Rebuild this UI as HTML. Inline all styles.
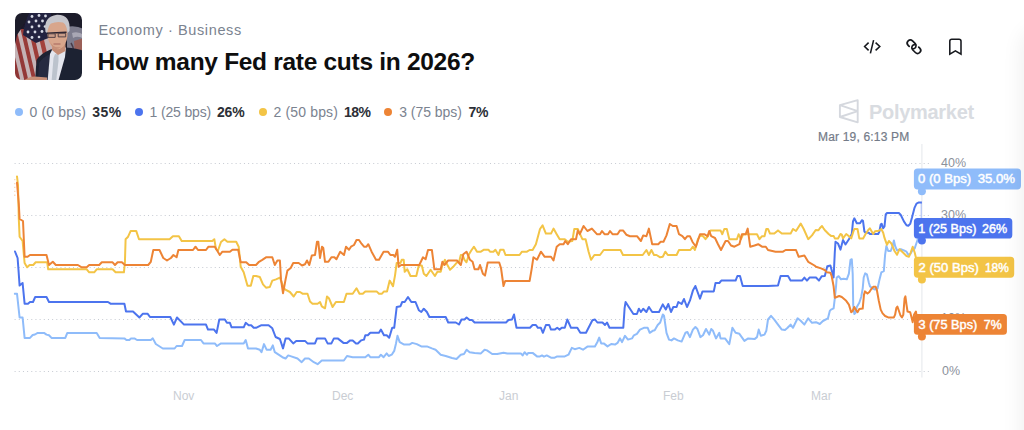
<!DOCTYPE html>
<html><head><meta charset="utf-8">
<style>
html,body{margin:0;padding:0;background:#fff;}
body{width:1024px;height:430px;position:relative;overflow:hidden;font-family:"Liberation Sans",sans-serif;}
.abs{position:absolute;white-space:nowrap;}
#crumb{left:98.5px;top:22px;font-size:14.5px;line-height:16px;color:#7b8390;letter-spacing:0.62px;}
#title{left:97.5px;top:48px;font-size:24.5px;line-height:28px;font-weight:bold;color:#0e0e0e;letter-spacing:-0.3px;}
.lg{top:104px;font-size:14px;line-height:16px;color:#7b8390;}
.lg b{color:#2c2f36;}
.dot{position:absolute;width:8px;height:8px;border-radius:50%;top:107.5px;}
#pm{left:869px;top:100px;font-size:20px;line-height:24px;font-weight:bold;color:#d9dce1;letter-spacing:-0.3px;}
#date{left:818px;top:130px;font-size:12px;line-height:14px;color:#747b88;letter-spacing:0.18px;-webkit-text-stroke:0.2px #747b88;}
.ax{font-size:12.5px;line-height:14px;color:#8b919b;left:941px;}
.mo{font-size:12px;line-height:14px;color:#c9cdd3;top:388.6px;}
#shade{position:absolute;left:1024px;top:30px;width:40px;height:600px;border-radius:24px;box-shadow:0 0 20px 4px rgba(0,0,0,0.06);}
</style></head><body>
<svg class="abs" style="left:14.7px;top:13.2px" width="67" height="67" viewBox="0 0 67 67">
<defs><clipPath id="tc"><rect x="0" y="0" width="67" height="67" rx="7"/></clipPath>
<filter id="bl" x="-10%" y="-10%" width="120%" height="120%"><feGaussianBlur stdDeviation="0.55"/></filter></defs>
<g clip-path="url(#tc)"><g filter="url(#bl)">
<rect x="-2" y="-2" width="71" height="71" fill="#1b1a2b"/>
<!-- right bg seal -->
<path d="M52,14 Q60,12 69,16 V52 H52 Z" fill="#7d7c8d"/>
<path d="M57,20 Q63,18 69,22 V26 Q63,22 58,25 Z" fill="#a9a7b4"/>
<path d="M59,28 L69,25 V50 L60,44 Z" fill="#9a6059"/>
<path d="M56,30 Q60,36 58,46" stroke="#4a3a48" stroke-width="1.5" fill="none"/>
<!-- flag stripes -->
<g transform="translate(0,16) skewX(13)">
<rect x="-14" y="0" width="52" height="55" fill="#c4b3b6"/>
<rect x="-10.5" y="0" width="4" height="55" fill="#8f3634"/>
<rect x="-2.5" y="0" width="4" height="55" fill="#933837"/>
<rect x="5.5" y="0" width="4" height="55" fill="#983a37"/>
<rect x="13.5" y="0" width="4.2" height="55" fill="#9d3d39"/>
<rect x="22" y="0" width="4.5" height="55" fill="#a3423c"/>
</g>
<path d="M-2,-2 H18 L2,22 L-2,40 Z" fill="#1b1a2b"/>
<!-- canton -->
<path d="M15,-2 H36 V24 L21,30 L8,22 Q9,10 15,-2 Z" fill="#222440"/>
<g fill="#d5d7e3">
<circle cx="17" cy="3.5" r="1.4"/><circle cx="24" cy="2.5" r="1.4"/><circle cx="30.5" cy="3" r="1.4"/>
<circle cx="14" cy="9" r="1.4"/><circle cx="21" cy="8" r="1.4"/><circle cx="27.5" cy="8" r="1.4"/>
<circle cx="17" cy="14" r="1.4"/><circle cx="24" cy="13" r="1.4"/><circle cx="30" cy="13.5" r="1.3"/>
<circle cx="13" cy="19" r="1.4"/><circle cx="20" cy="19" r="1.4"/><circle cx="27" cy="18.5" r="1.4"/>
<circle cx="17" cy="24.5" r="1.4"/><circle cx="24" cy="24" r="1.3"/>
</g>
<!-- suit -->
<path d="M20,69 L21.5,47 Q25,41 35.5,36.5 L51,34.5 Q62,35 69,38 V69 Z" fill="#1e2031"/>
<path d="M24,50 Q28,44 35,41 L33,69 H23 Z" fill="#272b40"/>
<!-- shirt -->
<path d="M32.5,69 L35,41 L38,35 L51,34.5 L50,44 L43,69 Z" fill="#e4e6ee"/>
<path d="M36.5,69 L38.5,45 L40,41 L43.5,41.5 L43.5,48 L41,69 Z" fill="#bcc3cd"/>
<!-- neck/face -->
<path d="M37,30 H50.5 V38 L43,42 L37,37 Z" fill="#c48c74"/>
<path d="M32,18 Q31,6 42,5 Q53,5 52.5,18 Q53,28 48.5,33.5 Q43,38.5 37.5,34.5 Q32.5,29 32,18 Z" fill="#d8a68c"/>
<path d="M34,27 Q38,36 46,34 Q42,37.5 38,35 Z" fill="#c58f78"/>
<!-- hair -->
<path d="M30.5,19 Q28,3.5 42,1.8 Q56,1.5 54.5,18 L52.5,20 Q52,12 48,9.5 Q42,8 36,10.5 Q33,13 32.3,20 Z" fill="#c6c6cc"/>
<!-- glasses -->
<path d="M32,20.3 L51.5,19.2" stroke="#2c2430" stroke-width="1.5" fill="none"/>
<path d="M33,20.8 h7.2 v3.6 h-7.2 z M43.2,20.3 h7.5 v3.6 h-7.5 z" stroke="#4a3a40" stroke-width="0.9" fill="#c99c88"/>
<path d="M38.5,31 h7" stroke="#a5655a" stroke-width="1"/>
<!-- hand -->
<path d="M8,69 Q12,63.5 20,63.5 L32,64.5 V69 Z" fill="#c78f78"/>
</g></g></svg>
<div id="crumb" class="abs">Economy · Business</div>
<div id="title" class="abs">How many Fed rate cuts in 2026?</div>

<div class="dot" style="left:14.8px;background:#8fbcfa"></div>
<div class="abs lg" style="left:29.5px;letter-spacing:0.15px">0 (0 bps)</div><div class="abs lg" style="left:92.3px;letter-spacing:0.45px"><b>35%</b></div>
<div class="dot" style="left:134.8px;background:#4c74ee"></div>
<div class="abs lg" style="left:149.5px;letter-spacing:-0.15px">1 (25 bps)</div><div class="abs lg" style="left:217px;letter-spacing:-0.2px"><b>26%</b></div>
<div class="dot" style="left:259px;background:#f3c446"></div>
<div class="abs lg" style="left:273.5px;letter-spacing:0.15px">2 (50 bps)</div><div class="abs lg" style="left:344px;letter-spacing:-0.5px"><b>18%</b></div>
<div class="dot" style="left:384px;background:#ed8435"></div>
<div class="abs lg" style="left:399.3px;letter-spacing:-0.05px">3 (75 bps)</div><div class="abs lg" style="left:468.5px;letter-spacing:-0.3px"><b>7%</b></div>

<div id="pm" class="abs">Polymarket</div>
<div id="date" class="abs">Mar 19, 6:13 PM</div>

<div class="abs ax" style="top:156px">40%</div>
<div class="abs ax" style="top:208px">30%</div>
<div class="abs ax" style="top:260px">20%</div>
<div class="abs ax" style="top:311px">10%</div>
<div class="abs ax" style="top:364px;left:942px">0%</div>

<div class="abs mo" style="left:173px">Nov</div>
<div class="abs mo" style="left:332px">Dec</div>
<div class="abs mo" style="left:499px">Jan</div>
<div class="abs mo" style="left:663px">Feb</div>
<div class="abs mo" style="left:811px">Mar</div>

<svg class="abs" style="left:0;top:0" width="1024" height="430" viewBox="0 0 1024 430" font-family="Liberation Sans, sans-serif">
<line x1="14.6" y1="163.5" x2="932" y2="163.5" stroke="#c6cad2" stroke-width="1" stroke-dasharray="1 3.17"/>
<line x1="14.6" y1="215.5" x2="932" y2="215.5" stroke="#c6cad2" stroke-width="1" stroke-dasharray="1 3.17"/>
<line x1="14.6" y1="267.5" x2="932" y2="267.5" stroke="#c6cad2" stroke-width="1" stroke-dasharray="1 3.17"/>
<line x1="14.6" y1="319.5" x2="932" y2="319.5" stroke="#c6cad2" stroke-width="1" stroke-dasharray="1 3.17"/>
<line x1="14.6" y1="371.5" x2="932" y2="371.5" stroke="#c6cad2" stroke-width="1" stroke-dasharray="1 3.17"/>

<line x1="921.9" y1="144" x2="921.9" y2="377.5" stroke="#eceef1" stroke-width="1.4"/>
<line x1="921.2" y1="203" x2="921.2" y2="219" stroke="#9fb6f6" stroke-width="0.9"/>
<defs><clipPath id="pc"><rect x="13.8" y="140" width="908.1" height="240"/></clipPath></defs>
<path d="M14.8,179 V197" stroke="#f0a458" stroke-opacity="0.45" stroke-width="1.2" stroke-dasharray="1.3 2.6"/>
<g fill="none" stroke-width="2" stroke-linejoin="round" stroke-linecap="round" clip-path="url(#pc)">
<path d="M14.6,293.7 L17.0,293.7 L19.6,317.5 L22.6,317.5 L24.6,337.9 L30.0,337.9 L32.7,335.0 L35.0,334.5 L37.7,332.9 L44.0,332.9 L46.5,334.6 L49.0,335.2 L51.5,337.9 L65.3,337.9 L67.3,332.9 L96.7,332.9 L99.7,337.9 L124.4,338.4 L126.4,340.0 L129.4,340.0 L131.0,338.4 L134.4,338.4 L137.0,340.0 L150.8,340.0 L152.8,338.4 L155.8,344.0 L162.8,348.5 L174.6,348.5 L176.6,346.0 L182.0,346.0 L184.7,340.0 L201.0,340.0 L203.5,343.4 L214.8,343.4 L217.0,346.0 L221.0,343.4 L243.7,343.4 L245.7,340.0 L248.0,348.5 L256.0,348.5 L259.8,349.7 L261.5,352.2 L264.0,344.1 L266.6,349.7 L270.6,349.7 L272.8,345.4 L274.8,352.2 L278.6,354.7 L282.4,357.2 L285.6,358.5 L288.2,355.4 L291.2,356.4 L297.5,358.5 L301.7,362.2 L305.0,358.5 L308.8,358.5 L313.8,362.2 L317.6,364.2 L321.8,360.5 L343.9,360.5 L347.0,356.0 L352.7,357.2 L365.3,357.2 L368.3,354.7 L370.3,357.2 L379.0,357.2 L380.9,354.7 L383.6,357.2 L386.7,353.4 L388.7,356.0 L391.7,354.7 L394.2,350.9 L396.0,343.4 L397.5,335.8 L399.7,342.1 L404.2,344.6 L409.3,344.6 L412.3,342.9 L416.8,344.1 L421.3,346.4 L426.9,346.4 L431.9,348.4 L435.6,349.7 L440.7,354.7 L445.7,356.0 L452.0,358.0 L456.5,359.0 L460.8,354.7 L464.0,354.0 L466.6,349.7 L469.6,352.2 L474.6,353.0 L480.9,353.4 L484.6,349.7 L487.0,350.4 L492.2,354.0 L497.2,354.0 L503.5,352.7 L507.3,353.4 L512.0,353.4 L520.8,353.4 L522.6,355.4 L524.6,352.2 L527.0,354.7 L528.3,352.9 L532.6,352.9 L537.0,356.4 L540.0,356.4 L542.0,355.4 L544.0,356.7 L546.7,355.4 L551.0,357.7 L554.7,357.7 L557.2,356.4 L564.8,356.4 L568.5,354.7 L571.8,347.9 L574.8,349.2 L579.3,347.9 L583.0,349.7 L587.4,346.6 L594.9,346.6 L597.4,342.0 L599.2,337.6 L601.2,343.4 L603.7,343.4 L607.5,346.4 L611.2,344.0 L615.0,344.6 L617.5,342.9 L620.0,338.4 L622.0,342.1 L625.0,335.8 L628.0,339.6 L632.0,338.4 L633.9,335.3 L636.9,333.8 L640.0,329.6 L643.9,327.8 L647.7,327.8 L649.7,332.8 L652.7,330.8 L654.7,330.3 L657.7,325.0 L660.2,322.5 L662.8,314.5 L664.0,315.7 L666.5,332.8 L669.0,339.6 L671.5,340.4 L674.0,338.4 L677.8,340.4 L681.6,341.6 L685.4,332.8 L687.4,332.0 L689.9,337.1 L692.9,329.6 L695.4,327.0 L697.4,329.0 L700.4,337.1 L703.0,335.3 L706.0,329.0 L709.2,334.6 L711.2,329.0 L713.0,330.8 L716.0,338.4 L719.3,332.8 L720.5,338.4 L725.0,338.4 L729.3,344.1 L732.4,327.8 L735.6,332.8 L739.4,333.8 L744.4,340.9 L748.2,338.4 L754.5,339.1 L757.0,337.1 L758.7,329.6 L760.8,335.8 L764.5,334.6 L766.3,330.8 L768.0,319.5 L771.0,315.8 L774.3,319.6 L778.0,324.6 L781.8,329.6 L785.0,330.0 L787.6,327.8 L790.6,324.6 L793.0,327.8 L797.6,318.3 L800.7,320.8 L804.4,324.6 L808.2,318.3 L812.0,322.8 L816.0,322.2 L819.8,324.0 L822.9,321.0 L827.9,318.4 L829.8,310.9 L831.0,309.6 L833.6,308.4 L834.8,298.3 L836.1,285.8 L836.7,277.5 L838.6,276.2 L841.0,279.3 L843.6,278.7 L846.8,279.3 L848.9,273.7 L850.5,259.9 L851.8,259.2 L852.7,273.7 L853.2,304.6 L854.3,314.0 L855.6,312.8 L856.8,307.0 L859.3,302.7 L861.2,297.0 L862.7,288.3 L863.7,277.5 L865.2,273.4 L866.9,274.3 L868.8,282.5 L870.0,286.4 L872.5,288.3 L875.0,289.5 L877.6,288.3 L879.4,280.0 L881.3,272.4 L883.8,271.2 L885.1,254.8 L886.4,246.0 L888.2,251.0 L890.7,251.0 L892.6,246.0 L893.9,240.4 L895.1,246.0 L897.0,250.4 L900.8,249.2 L903.9,250.4 L906.5,251.7 L908.3,254.8 L910.2,254.2 L912.0,251.0 L914.6,248.6 L916.5,243.0 L917.8,239.0 L919.5,237.6 L921.9,237.2" stroke="#8fbcfa"/>
<path d="M15.0,251.5 L17.6,258.0 L18.5,270.0 L19.6,285.6 L22.6,283.0 L24.6,303.7 L28.0,303.7 L30.0,302.0 L33.0,302.0 L35.2,297.0 L46.5,297.0 L49.0,302.0 L108.0,302.0 L110.5,303.7 L124.4,303.7 L126.0,311.5 L133.0,311.5 L139.4,317.5 L142.7,313.8 L147.7,313.8 L150.0,317.0 L170.3,317.0 L173.9,324.6 L177.0,317.5 L184.0,324.6 L206.0,324.6 L208.0,329.6 L214.0,329.6 L216.6,332.9 L219.3,319.5 L224.9,319.5 L226.9,322.8 L229.9,322.8 L231.6,327.3 L243.7,327.3 L245.7,322.8 L248.7,325.3 L251.2,325.3 L253.7,327.8 L256.0,327.8 L261.0,325.3 L268.6,325.3 L272.3,328.3 L275.6,337.0 L279.9,339.0 L283.0,348.4 L285.6,338.4 L288.7,338.4 L293.2,343.4 L296.2,340.9 L305.0,340.9 L307.5,343.4 L315.0,343.4 L317.0,338.4 L325.0,338.4 L327.6,343.4 L331.4,343.4 L333.9,338.4 L337.7,338.4 L343.4,342.9 L347.0,342.9 L350.2,340.4 L352.7,340.4 L356.0,343.4 L357.8,343.4 L361.0,340.4 L364.0,339.6 L365.3,335.3 L367.8,335.3 L370.3,332.8 L379.0,332.8 L380.9,329.6 L384.0,335.3 L386.7,335.3 L389.2,337.8 L392.2,327.8 L394.2,327.8 L396.7,307.0 L400.5,306.2 L402.2,302.0 L404.7,302.0 L408.0,297.0 L411.3,302.0 L415.5,302.0 L418.8,310.2 L421.3,312.0 L423.8,308.7 L426.9,312.0 L429.4,317.0 L445.7,317.0 L448.2,322.5 L455.8,322.5 L459.0,324.5 L461.5,319.5 L464.5,319.5 L466.6,317.5 L469.6,320.0 L472.0,320.0 L474.6,322.5 L506.0,322.5 L508.5,320.0 L512.0,319.5 L514.0,314.5 L516.5,327.8 L530.0,327.8 L532.6,325.0 L535.9,325.0 L537.9,327.8 L540.9,327.8 L542.9,332.8 L545.9,325.0 L549.2,325.0 L551.0,329.6 L554.7,329.6 L557.2,327.8 L559.7,329.6 L561.7,327.8 L564.8,327.8 L567.3,319.5 L571.0,327.8 L577.3,327.8 L580.3,332.8 L586.0,332.8 L592.4,320.3 L595.0,319.5 L597.4,322.5 L602.5,322.5 L605.0,325.0 L607.0,322.5 L609.5,327.8 L623.3,327.8 L624.6,308.2 L625.6,302.0 L628.8,307.0 L633.4,314.0 L636.9,314.0 L638.9,308.7 L640.9,312.0 L643.2,308.7 L646.4,312.0 L648.9,307.0 L652.2,312.0 L659.0,312.0 L662.8,304.4 L665.8,309.5 L668.3,304.0 L671.0,312.0 L673.3,307.0 L676.6,307.0 L678.3,302.0 L681.6,304.0 L684.0,299.0 L687.0,307.0 L689.9,300.7 L692.9,290.6 L695.4,286.0 L700.0,298.6 L702.5,291.4 L713.8,291.4 L715.5,283.0 L719.3,283.0 L721.3,280.6 L735.6,280.6 L737.4,276.0 L740.0,276.0 L742.7,286.0 L768.0,286.0 L778.0,285.6 L780.6,276.0 L788.0,276.0 L790.6,280.6 L801.9,280.6 L804.4,277.6 L807.0,280.6 L809.5,277.6 L816.0,277.5 L819.0,280.6 L821.7,276.2 L824.8,276.0 L827.3,266.2 L830.4,265.5 L832.3,272.4 L833.6,277.5 L834.8,252.3 L835.5,241.7 L838.0,243.5 L840.5,249.6 L843.0,240.0 L845.5,244.5 L848.9,239.3 L851.8,234.0 L853.0,221.4 L854.3,218.3 L856.8,223.3 L860.0,223.3 L861.9,220.2 L863.0,220.8 L864.4,231.5 L865.6,232.7 L868.8,232.7 L870.0,234.0 L878.2,234.0 L879.4,231.5 L880.7,224.5 L881.6,223.7 L883.2,228.3 L884.5,226.4 L885.7,214.5 L887.0,213.0 L898.9,213.0 L900.8,215.0 L903.9,221.4 L906.5,225.2 L908.3,225.8 L910.2,223.9 L912.0,217.6 L914.6,207.6 L916.5,203.6 L918.4,202.6 L921.9,202.6" stroke="#4c74ee"/>
<path d="M17.0,176.4 L18.0,185.0 L18.8,219.0 L19.6,236.7 L22.6,241.0 L24.6,263.0 L27.1,267.3 L29.6,265.0 L33.2,265.0 L35.7,262.3 L47.2,262.3 L48.2,269.3 L86.7,269.3 L89.2,272.3 L94.2,272.3 L96.7,269.3 L112.6,269.3 L115.6,272.3 L123.9,272.3 L124.9,263.0 L125.6,239.2 L128.1,236.7 L130.7,230.9 L136.2,230.9 L139.0,239.2 L169.6,239.2 L172.9,236.2 L178.9,236.2 L181.7,241.0 L212.3,241.0 L214.3,239.2 L216.0,249.2 L218.0,250.5 L221.0,242.0 L224.4,239.2 L227.4,241.7 L236.2,241.7 L238.7,246.7 L240.7,266.8 L243.7,272.3 L247.5,285.7 L250.8,285.7 L253.3,276.0 L256.0,276.0 L259.8,277.0 L263.0,284.4 L266.0,287.7 L269.8,287.0 L272.3,280.6 L276.0,279.4 L279.9,277.6 L282.4,284.4 L284.9,289.4 L289.9,292.0 L293.7,296.5 L296.7,292.0 L300.0,292.0 L302.5,293.7 L307.5,293.7 L310.0,301.5 L312.5,303.7 L317.6,303.7 L320.0,302.0 L321.8,306.3 L325.0,308.3 L327.0,296.5 L328.9,298.2 L332.6,307.0 L335.9,302.0 L343.9,302.0 L346.5,293.7 L352.7,293.7 L356.5,288.2 L359.5,293.7 L362.8,293.7 L365.3,291.4 L376.6,291.4 L379.0,293.7 L382.0,293.7 L384.0,291.4 L387.0,291.4 L389.7,280.6 L393.0,286.2 L395.0,275.6 L396.7,263.0 L400.5,263.0 L401.7,259.8 L403.7,259.8 L404.7,271.8 L407.3,269.3 L410.5,276.0 L416.3,276.0 L418.8,265.5 L421.8,265.5 L423.8,273.8 L426.4,276.0 L430.6,269.8 L434.9,276.0 L437.4,271.8 L440.7,271.8 L442.4,265.0 L445.0,259.8 L447.0,264.3 L450.0,269.8 L453.2,266.8 L457.0,262.3 L459.0,262.3 L460.8,255.0 L462.5,255.0 L464.5,259.8 L466.5,262.3 L469.0,254.3 L471.6,250.0 L474.0,246.7 L477.0,251.7 L480.9,251.7 L484.0,249.7 L488.4,249.7 L490.0,251.7 L493.4,251.7 L495.4,249.7 L498.5,255.0 L500.2,249.7 L503.5,249.7 L505.5,255.0 L512.0,255.0 L519.5,255.0 L522.0,251.7 L527.0,251.7 L529.6,250.0 L532.6,250.0 L535.9,244.2 L540.0,229.0 L542.6,225.4 L545.9,233.6 L551.0,233.6 L553.5,228.6 L556.7,234.2 L559.7,239.2 L564.8,239.2 L567.8,241.7 L572.3,241.0 L574.3,229.0 L577.8,229.0 L579.8,233.6 L582.4,239.2 L585.6,239.2 L588.6,251.7 L591.0,259.8 L594.4,255.0 L600.0,255.0 L603.7,250.0 L620.5,250.0 L623.0,255.0 L642.7,255.0 L646.4,250.0 L648.9,255.0 L651.4,250.0 L654.0,255.0 L656.5,255.0 L660.2,257.3 L662.8,256.8 L665.3,251.7 L667.8,255.0 L676.6,255.0 L679.0,250.0 L690.4,250.0 L692.9,246.7 L694.9,250.0 L697.9,239.2 L700.4,235.4 L703.0,236.2 L705.5,239.2 L708.0,236.2 L710.5,230.4 L720.5,230.4 L722.3,234.2 L724.3,229.0 L726.8,229.0 L729.3,239.2 L736.9,239.2 L738.6,234.2 L741.0,239.2 L743.2,234.2 L757.0,234.2 L759.5,239.2 L762.0,236.2 L764.5,236.2 L766.3,229.0 L768.0,229.0 L770.0,233.6 L774.3,233.6 L778.0,230.4 L781.8,233.6 L790.6,233.6 L793.0,229.0 L796.0,231.0 L800.7,223.6 L803.7,229.0 L808.2,239.2 L812.0,235.4 L815.7,230.0 L818.5,230.2 L819.8,228.3 L822.0,226.0 L823.5,228.3 L825.4,230.8 L828.6,234.0 L831.0,235.9 L833.6,235.9 L834.8,238.4 L838.0,238.4 L840.5,234.0 L841.8,234.6 L843.0,238.4 L846.2,234.0 L849.3,236.5 L851.2,238.4 L853.0,232.7 L854.3,229.0 L857.5,229.0 L859.3,238.4 L863.1,238.4 L865.6,234.0 L868.1,230.2 L869.8,228.3 L871.3,230.8 L873.2,234.0 L875.0,231.2 L878.8,230.8 L881.3,229.0 L883.2,232.7 L884.5,237.9 L887.0,244.8 L888.9,241.0 L891.4,243.5 L894.5,251.0 L897.0,254.8 L899.5,249.2 L902.7,252.3 L906.5,256.0 L909.0,256.7 L910.8,252.3 L912.7,246.7 L914.6,252.3 L915.9,257.4 L918.0,268.0 L921.9,279.4" stroke="#f3c446"/>
<path d="M17.0,182.7 L18.8,204.0 L19.6,219.0 L23.0,221.0 L24.6,256.8 L27.6,256.8 L30.0,255.0 L46.5,255.0 L49.0,265.0 L52.8,261.8 L55.8,265.0 L77.9,265.0 L81.7,267.3 L86.7,267.3 L89.2,265.0 L99.2,265.0 L101.8,262.3 L112.6,262.3 L115.0,265.0 L117.6,262.3 L121.9,262.3 L124.9,265.0 L148.2,265.0 L150.8,261.8 L153.3,250.0 L159.5,250.0 L163.3,258.0 L167.0,260.5 L170.9,258.0 L173.4,255.0 L176.6,257.3 L178.4,250.0 L193.0,250.0 L195.5,246.7 L198.0,250.0 L206.0,250.0 L208.5,246.7 L214.8,246.7 L219.8,255.0 L222.4,251.7 L229.9,251.7 L232.4,249.7 L238.2,249.7 L240.7,262.3 L246.2,262.3 L249.2,265.0 L256.0,265.0 L259.0,261.8 L262.3,259.8 L266.0,257.3 L272.3,257.3 L274.8,265.0 L277.4,260.5 L279.9,260.5 L281.0,279.4 L283.0,293.2 L285.6,279.4 L287.4,270.6 L290.7,268.0 L293.2,263.0 L298.7,263.0 L302.0,265.5 L305.0,264.3 L307.0,260.5 L309.3,265.0 L311.8,255.5 L315.0,255.0 L317.0,241.7 L318.3,241.7 L320.0,258.0 L322.0,246.7 L323.3,248.0 L325.0,261.8 L328.4,261.8 L331.4,257.3 L334.4,257.3 L336.4,259.3 L340.2,251.7 L344.0,255.0 L346.0,246.7 L349.0,249.7 L351.0,246.7 L354.0,245.0 L356.5,240.0 L359.0,240.0 L361.5,243.7 L364.0,246.7 L366.5,246.7 L368.3,244.2 L371.6,251.7 L376.0,259.8 L379.0,259.8 L383.6,251.7 L387.9,251.7 L390.4,255.0 L393.4,255.0 L395.0,256.8 L397.2,249.7 L398.7,266.8 L401.2,265.0 L419.3,265.0 L423.0,257.3 L425.6,259.3 L428.0,250.0 L431.9,250.0 L434.4,269.3 L440.7,269.3 L442.4,261.8 L444.4,265.0 L448.2,260.5 L457.0,260.5 L460.8,265.0 L463.3,254.3 L466.5,251.7 L470.0,259.8 L472.6,261.8 L474.6,269.3 L478.4,269.3 L480.0,265.0 L482.9,273.8 L485.0,275.6 L487.7,262.5 L499.2,262.5 L501.0,268.0 L503.5,286.0 L505.2,281.0 L512.0,281.0 L529.6,281.0 L531.6,269.3 L533.4,257.3 L537.0,259.8 L540.9,251.7 L544.7,256.8 L551.0,256.8 L553.5,260.5 L556.7,246.7 L559.7,244.2 L563.5,244.2 L565.3,241.0 L567.8,244.2 L571.0,239.2 L576.0,239.2 L577.8,230.4 L579.8,234.2 L583.6,226.0 L587.4,231.0 L591.9,228.6 L596.9,234.2 L600.0,234.2 L602.0,231.0 L604.5,234.2 L608.0,234.2 L610.0,231.0 L612.5,234.2 L617.5,234.2 L620.0,230.4 L623.0,230.4 L626.3,234.7 L630.0,236.2 L637.0,236.2 L640.9,241.0 L643.2,235.4 L646.4,236.2 L648.9,228.6 L652.2,244.2 L658.2,244.2 L660.7,241.7 L663.5,241.7 L666.5,235.4 L669.8,224.0 L672.8,226.0 L676.6,226.0 L679.0,234.2 L682.4,236.2 L684.9,239.2 L687.4,236.2 L689.9,236.2 L692.4,241.7 L695.9,246.7 L700.0,234.2 L704.2,234.2 L707.5,236.2 L709.2,231.0 L711.2,236.2 L715.0,238.0 L718.0,244.2 L721.0,250.0 L725.6,241.0 L728.0,241.0 L731.0,245.5 L734.4,246.7 L739.4,244.2 L741.9,234.2 L745.7,234.2 L747.7,228.6 L750.2,246.7 L754.5,245.5 L758.2,244.2 L762.0,246.7 L765.8,246.7 L768.0,250.0 L775.5,251.7 L783.0,251.7 L785.6,250.0 L796.0,250.0 L798.7,256.8 L804.4,255.5 L808.2,261.8 L814.5,265.5 L816.0,266.8 L821.0,268.4 L824.8,270.0 L826.7,272.2 L830.4,272.7 L831.7,276.2 L833.6,286.3 L834.8,297.7 L836.7,297.0 L839.2,296.0 L841.8,297.0 L846.2,300.8 L848.9,304.6 L851.2,312.2 L852.4,311.5 L854.3,307.0 L856.2,310.3 L857.5,312.2 L859.3,309.0 L862.7,308.6 L864.0,294.6 L865.0,291.4 L867.5,293.6 L869.4,292.0 L871.3,289.0 L873.2,286.8 L875.7,286.8 L876.9,290.2 L878.8,300.8 L880.7,309.6 L882.6,313.4 L885.1,316.0 L888.2,317.4 L893.9,317.4 L895.1,314.7 L896.4,307.8 L897.4,306.5 L898.7,310.3 L900.4,315.3 L902.0,317.4 L903.3,314.7 L904.6,298.3 L905.4,296.4 L906.5,304.6 L907.5,311.5 L910.2,312.2 L911.5,317.2 L912.7,322.2 L914.0,314.7 L915.9,311.5 L918.0,325.0 L921.9,336.5" stroke="#ed8435"/>
</g>
<circle cx="921.9" cy="191.3" r="4" fill="#8fbcfa"/><rect x="913.9" y="168.5" width="107.1" height="20.9" rx="3.6" fill="#8fbcfa"/><text x="918" y="183.1" fill="#fff" font-size="12.4" stroke="#fff" stroke-width="0.45" textLength="53.2" lengthAdjust="spacingAndGlyphs">0 (0 Bps)</text><text x="977.7" y="183.1" fill="#fff" font-size="12.4" stroke="#fff" stroke-width="0.45" textLength="37.4" lengthAdjust="spacingAndGlyphs">35.0%</text>
<circle cx="921.9" cy="240.5" r="4" fill="#4c74ee"/><rect x="913.9" y="218" width="98.4" height="20.5" rx="3.6" fill="#4c74ee"/><text x="918.3" y="232.6" fill="#fff" font-size="12.4" stroke="#fff" stroke-width="0.45" textLength="58.1" lengthAdjust="spacingAndGlyphs">1 (25 Bps)</text><text x="982" y="232.6" fill="#fff" font-size="12.4" stroke="#fff" stroke-width="0.45" textLength="25.1" lengthAdjust="spacingAndGlyphs">26%</text>
<circle cx="921.9" cy="279.4" r="4" fill="#f3c446"/><rect x="913.9" y="256.8" width="100.3" height="20.9" rx="3.6" fill="#f3c446"/><text x="918.5" y="271.6" fill="#fff" font-size="12.4" stroke="#fff" stroke-width="0.45" textLength="60.4" lengthAdjust="spacingAndGlyphs">2 (50 Bps)</text><text x="984.9" y="271.6" fill="#fff" font-size="12.4" stroke="#fff" stroke-width="0.45" textLength="23.9" lengthAdjust="spacingAndGlyphs">18%</text>
<circle cx="921.9" cy="336.5" r="4" fill="#ed8435"/><rect x="913.9" y="313.9" width="93.0" height="20.9" rx="3.6" fill="#ed8435"/><text x="918.5" y="328.8" fill="#fff" font-size="12.4" stroke="#fff" stroke-width="0.45" textLength="58.8" lengthAdjust="spacingAndGlyphs">3 (75 Bps)</text><text x="983.8" y="328.8" fill="#fff" font-size="12.4" stroke="#fff" stroke-width="0.45" textLength="17.9" lengthAdjust="spacingAndGlyphs">7%</text>

<!-- icons -->
<g fill="none" stroke="#16181d" stroke-width="1.55" stroke-linejoin="miter">
<path d="M868.6,42.6 L864.6,46.5 L868.6,50.4 M875.6,42.6 L879.8,46.5 L875.6,50.4 M873.6,40.1 L870.4,53.4"/>
<path d="M949.8,54.2 V41.2 a2,2 0 0 1 2,-2 H959 a2,2 0 0 1 2,2 V54.2 L955.4,50.8 Z"/>
<g transform="translate(913.95,46.7) rotate(45)" stroke-linecap="round">
<path stroke-width="1.7" d="M-3.6,3.1 L-5.1,3.1 A3.1,3.1 0 0 1 -5.1,-3.1 L-1.2,-3.1 A3.1,3.1 0 0 1 0.5,2.5"/>
<path stroke-width="1.7" d="M3.6,-3.1 L5.1,-3.1 A3.1,3.1 0 0 1 5.1,3.1 L1.2,3.1 A3.1,3.1 0 0 1 -0.5,-2.5"/>
</g>
</g>
<!-- polymarket logo -->
<g fill="none" stroke="#d5d8de" stroke-width="1.9" stroke-linejoin="round">
<path d="M857.7,100.2 V122.3 L839.9,117 V105.2 Z M839.9,105.2 L857.7,111.2 L839.9,117"/>
</g>
</svg>
<div id="shade"></div>
</body></html>
